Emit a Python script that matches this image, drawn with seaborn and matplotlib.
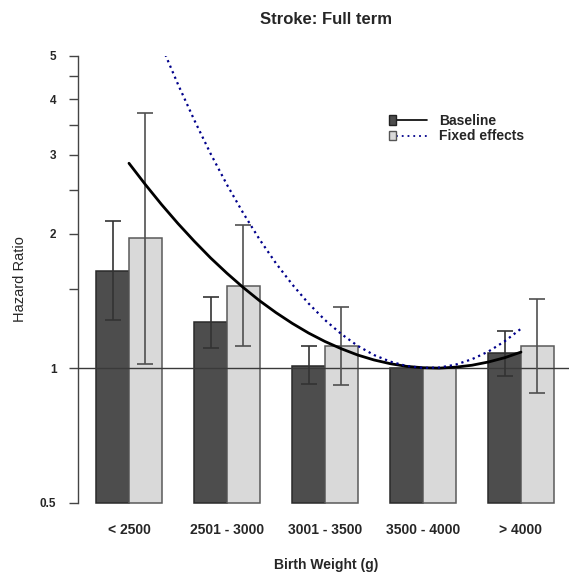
import numpy as np
import pandas as pd
import matplotlib
matplotlib.use("Agg")
import matplotlib.pyplot as plt
import seaborn as sns
from matplotlib.patches import Rectangle, Patch
from matplotlib.lines import Line2D
from matplotlib.legend_handler import HandlerBase
from matplotlib.ticker import NullLocator

# ---------------- data ----------------
categories = ['< 2500', '2501 - 3000', '3001 - 3500', '3500 - 4000', '> 4000']
series = ['Baseline', 'Fixed effects']

baseline_hr = [1.65, 1.27, 1.01, 1.00, 1.08]
baseline_lo = [1.28, 1.11, 0.92, np.nan, 0.96]
baseline_hi = [2.13, 1.44, 1.12, np.nan, 1.21]

fixed_hr = [1.95, 1.53, 1.12, 1.00, 1.12]
fixed_lo = [1.02, 1.12, 0.915, np.nan, 0.88]
fixed_hi = [3.72, 2.09, 1.37, np.nan, 1.43]

# fitted curves (position measured in category units, HR values)
curve_pos = [0.0, 0.167, 0.333, 0.5, 0.667, 0.833, 1.0, 1.167, 1.333, 1.5,
             1.667, 1.833, 2.0, 2.167, 2.333, 2.5, 2.667, 2.833, 3.0, 3.167,
             3.333, 3.5, 3.667, 3.833, 4.0]
baseline_curve = [2.873, 2.575, 2.322, 2.106, 1.922, 1.764, 1.630, 1.514, 1.415,
                  1.331, 1.259, 1.198, 1.147, 1.105, 1.070, 1.043, 1.023, 1.009,
                  1.002, 1.000, 1.005, 1.015, 1.032, 1.055, 1.086]
fixed_curve = [8.09, 6.48, 5.257, 4.315, 3.587, 3.018, 2.572, 2.220, 1.940,
               1.716, 1.538, 1.395, 1.281, 1.192, 1.122, 1.070, 1.034, 1.011,
               1.001, 1.003, 1.018, 1.047, 1.089, 1.148, 1.225]

yticks = [0.5, 1, 1.5, 2, 2.5, 3, 3.5, 4, 4.5, 5]
ytick_labels = ['0.5', '1', '', '2', '', '3', '', '4', '', '5']

# ---------------- style ----------------
sns.set_style("white")
plt.rcParams['font.family'] = ['Liberation Sans', 'DejaVu Sans']

dark = '#4d4d4d'
light = '#d9d9d9'
navy = '#00008B'

df = pd.DataFrame({
    'category': categories * 2,
    'series': [series[0]] * 5 + [series[1]] * 5,
    'hr': baseline_hr + fixed_hr,
})

fig = plt.figure(figsize=(5.69, 5.76), dpi=100)
ax = fig.add_axes([0.1371, 0.1273, 0.8629, 0.776])
ax.set_yscale('log')

sns.barplot(data=df, x='category', y='hr', hue='series', order=categories,
            hue_order=series, palette={series[0]: dark, series[1]: light},
            width=2 / 3, gap=0, errorbar=None, linewidth=1.1, saturation=1,
            legend=False, ax=ax)

y_floor = 0.5
edge_cols = ['#2a2a2a', '#5a5a5a']
centers = []
for cont, ec in zip(ax.containers, edge_cols):
    cs = []
    for bar in cont:
        top = bar.get_y() + bar.get_height()
        bar.set_y(y_floor)
        bar.set_height(top - y_floor)
        bar.set_edgecolor(ec)
        bar.set_clip_on(False)
        cs.append(bar.get_x() + bar.get_width() / 2)
    centers.append(cs)

# reference line at HR = 1
ax.axhline(1.0, color='#3a3a3a', lw=1.0, zorder=3)

# confidence intervals
for cs, hr, lo, hi, col in [(centers[0], baseline_hr, baseline_lo, baseline_hi, '#333333'),
                            (centers[1], fixed_hr, fixed_lo, fixed_hi, '#505050')]:
    hr = np.array(hr); lo = np.array(lo); hi = np.array(hi)
    ax.errorbar(cs, hr, yerr=[hr - lo, hi - hr], fmt='none', ecolor=col,
                elinewidth=1.2, capsize=6, capthick=1.2, zorder=4)

# fitted curves
sns.lineplot(x=curve_pos, y=baseline_curve, color='black', lw=2.0, ax=ax,
             zorder=5, sort=False)
sns.lineplot(x=curve_pos, y=fixed_curve, color=navy, lw=1.6, ax=ax,
             linestyle=(0, (1, 1.7)), zorder=5, sort=False)

ax.set_xlim(-0.52, 4.49)
ax.set_ylim(0.5, 5)
ax.yaxis.set_minor_locator(NullLocator())
ax.set_yticks(yticks)
ax.set_yticklabels(ytick_labels)
ax.tick_params(axis='y', direction='out', length=6.5, width=1, color='#444444',
               pad=9, labelsize=8.5, left=True)
for lab in ax.get_yticklabels():
    lab.set_fontweight('bold')
ax.tick_params(axis='x', length=0, pad=14.5, labelsize=10)
for lab in ax.get_xticklabels():
    lab.set_fontweight('bold')

for s in ['top', 'right', 'bottom']:
    ax.spines[s].set_visible(False)
ax.spines['left'].set_color('#444444')
ax.spines['left'].set_linewidth(1)

ax.set_xlabel('Birth Weight (g)', fontsize=10, fontweight='bold')
ax.xaxis.label.set_va('center')
ax.xaxis.set_label_coords(0.505, -0.139)
ax.set_ylabel('Hazard Ratio', fontsize=10.5)
ax.yaxis.label.set_va('center')
ax.yaxis.set_label_coords(-0.119, 0.5)
ax.set_title('Stroke: Full term', fontsize=12, fontweight='bold', pad=0,
             y=1.08, va='center')
ax.title.set_position((0.505, 1.08))


class BoxLineHandler(HandlerBase):
    def create_artists(self, legend, orig_handle, xdescent, ydescent, width,
                       height, fontsize, trans):
        patch, line = orig_handle
        bw = 5.3
        bh = 6.8
        x0, y0 = -xdescent, -ydescent
        rect = Rectangle((x0, y0 + (height - bh) / 2), bw, bh,
                         facecolor=patch.get_facecolor(),
                         edgecolor=patch.get_edgecolor(),
                         lw=patch.get_linewidth(), transform=trans)
        ln = Line2D([x0 + bw, x0 + width], [y0 + height / 2] * 2)
        ln.update_from(line)
        ln.set_transform(trans)
        return [ln, rect]


handles = [
    (Patch(facecolor=dark, edgecolor='#222222', lw=1.0),
     Line2D([], [], color='black', lw=1.2)),
    (Patch(facecolor=light, edgecolor='#555555', lw=1.0),
     Line2D([], [], color=navy, lw=1.3, linestyle=(0, (1, 2.2)))),
]
ax.legend(handles, series, handler_map={tuple: BoxLineHandler()},
          loc='upper left', bbox_to_anchor=(0.633, 0.870), frameon=False,
          borderpad=0, borderaxespad=0, handlelength=2.74, handletextpad=0.86,
          labelspacing=0.12, prop={'weight': 'bold', 'size': 10})

fig.savefig('out.png', dpi=100)
